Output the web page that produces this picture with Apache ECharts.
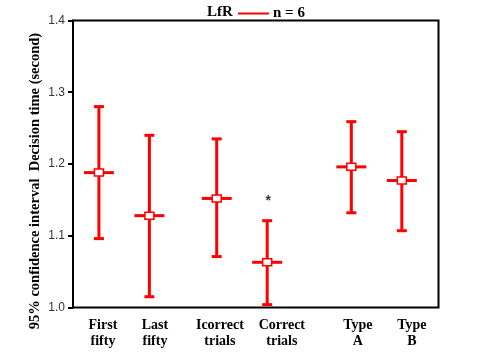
<!DOCTYPE html>
<html>
<head>
<meta charset="utf-8">
<script src="https://cdn.jsdelivr.net/npm/echarts@6/dist/echarts.min.js"></script>
<style>html,body{margin:0;padding:0;background:#fff}#c{width:483px;height:361px}</style>
</head>
<body>
<div id="c"></div>
<script>
// ---- data ----
var categories = ['First\nfifty', 'Last\nfifty', 'Icorrect\ntrials', 'Correct\ntrials', 'Type\nA', 'Type\nB'];
var groupSlot = [0, 3, 7, 10, 15, 18];           // slot of each group on the x axis
var labelSlot = [0.24, 3.33, 7.19, 10.87, 15.39, 18.6]; // where each label sits
var meanValues = [1.188, 1.128, 1.152, 1.063, 1.196, 1.177];
var lowerValues = [1.096, 1.015, 1.071, 1.004, 1.132, 1.107];
var upperValues = [1.280, 1.240, 1.235, 1.121, 1.259, 1.245];
var starGroup = 3;
var starValue = 1.153;
var yTicks = [1.0, 1.1, 1.2, 1.3, 1.4];

var serif = '"Liberation Serif","Times New Roman",serif';
var chart = echarts.init(document.getElementById('c'));

var errData = categories.map(function (c, i) {
  return [groupSlot[i], lowerValues[i], upperValues[i], meanValues[i]];
});

function renderItem(params, api) {
  var x = api.value(0);
  var lo = api.coord([x, api.value(1)]);
  var hi = api.coord([x, api.value(2)]);
  var me = api.coord([x, api.value(3)]);
  var red = '#ff0000';
  var s = {stroke: red, lineWidth: 3};
  return {
    type: 'group',
    children: [
      {type: 'line', shape: {x1: lo[0], y1: lo[1], x2: hi[0], y2: hi[1]}, style: s},
      {type: 'line', shape: {x1: hi[0] - 5, y1: hi[1], x2: hi[0] + 5, y2: hi[1]}, style: s},
      {type: 'line', shape: {x1: lo[0] - 5, y1: lo[1], x2: lo[0] + 5, y2: lo[1]}, style: s},
      {type: 'line', shape: {x1: me[0] - 15, y1: me[1], x2: me[0] + 15, y2: me[1]}, style: s},
      {type: 'rect', shape: {x: me[0] - 4.5, y: me[1] - 3.5, width: 9, height: 7},
        style: {fill: '#fff', stroke: red, lineWidth: 1.5}}
    ]
  };
}

chart.setOption({
  animation: false,
  title: {
    text: 'LfR', left: 202, top: 0,
    textStyle: {fontFamily: serif, fontWeight: 'bold', fontSize: 15, color: '#000'}
  },
  legend: {
    data: [{name: 'n = 6', icon: 'rect'}],
    left: 233, top: 1,
    itemWidth: 31, itemHeight: 2,
    textStyle: {fontFamily: serif, fontWeight: 'bold', fontSize: 15, color: '#000', padding: [0, 0, 0, -1]}
  },
  grid: {
    left: 73, right: 44.5, top: 20.5, bottom: 53.5,
    show: true, borderColor: '#000', borderWidth: 2, backgroundColor: 'transparent'
  },
  xAxis: {
    type: 'value', min: -1.54, max: 20.18,
    splitLine: {show: false},
    axisLine: {show: false},
    axisTick: {show: false},
    axisLabel: {
      customValues: labelSlot,
      margin: 10,
      formatter: function (v) {
        for (var i = 0; i < labelSlot.length; i++) {
          if (Math.abs(labelSlot[i] - v) < 1e-6) return categories[i];
        }
        return '';
      },
      fontFamily: serif, fontWeight: 'bold', fontSize: 14, color: '#000', lineHeight: 16
    }
  },
  yAxis: {
    type: 'value', min: 1.0, max: 1.4, interval: 0.1,
    splitLine: {show: false},
    axisLine: {show: true, onZero: false, lineStyle: {color: '#000', width: 2}},
    axisTick: {show: true, inside: false, length: 5, lineStyle: {color: '#000', width: 2}},
    axisLabel: {
      margin: 8,
      formatter: function (v) { return v.toFixed(1); },
      fontFamily: '"Liberation Sans",Arial,sans-serif', fontSize: 12, color: '#333'
    }
  },
  graphic: [{
    type: 'text', x: 35, y: 181, rotation: Math.PI / 2,
    style: {
      text: '95% confidence interval  Decision time (second)',
      fontFamily: serif, fontWeight: 'bold', fontSize: 14.5, fill: '#000',
      align: 'center', verticalAlign: 'middle'
    }
  }],
  series: [{
    name: 'n = 6', type: 'custom', renderItem: renderItem,
    itemStyle: {color: '#ff0000'},
    encode: {x: 0, y: [1, 2, 3]},
    data: errData
  }, {
    name: 'star', type: 'scatter', symbolSize: 0,
    data: [[groupSlot[starGroup], starValue]],
    label: {show: true, position: 'inside', formatter: '*',
      fontFamily: '"Liberation Sans",Arial,sans-serif', fontWeight: 'bold', fontSize: 14, color: '#000', offset: [1, 3]}
  }]
});
</script>
</body>
</html>
